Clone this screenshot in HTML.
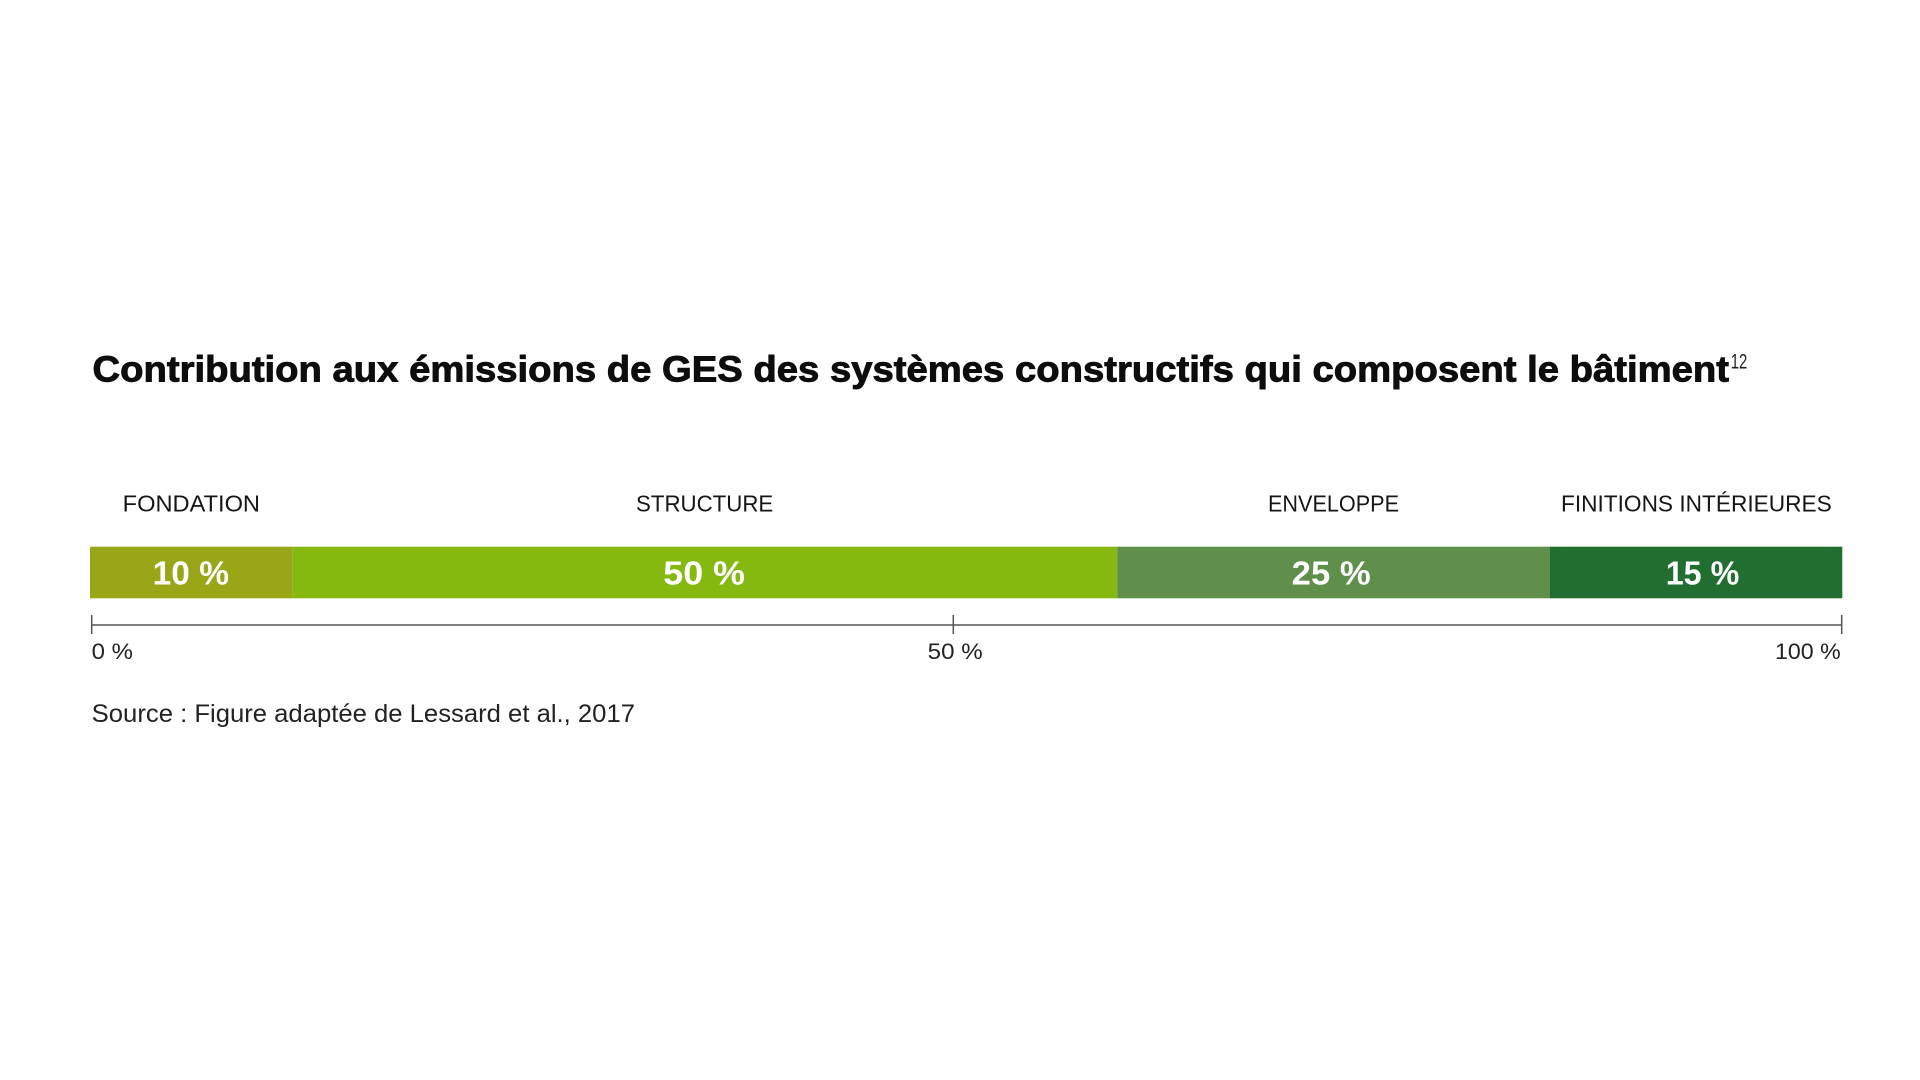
<!DOCTYPE html>
<html>
<head>
<meta charset="utf-8">
<style>
  html,body{margin:0;padding:0;background:#fff;}
  body{width:1920px;height:1080px;overflow:hidden;}
  svg{display:block;}
  text{font-family:"Liberation Sans",sans-serif;}
</style>
</head>
<body>
<svg width="1920" height="1080" viewBox="0 0 1920 1080" xmlns="http://www.w3.org/2000/svg">
  <rect x="0" y="0" width="1920" height="1080" fill="#ffffff"/>

  <!-- Title -->
  <text x="92.5" y="381.7" font-size="36.5" font-weight="bold" fill="#0d0d0d" stroke="#0d0d0d" stroke-width="0.9" textLength="1636.5" lengthAdjust="spacingAndGlyphs">Contribution aux émissions de GES des systèmes constructifs qui composent le bâtiment</text>
  <text x="1730.7" y="368.3" font-size="21" fill="#222" textLength="16.5" lengthAdjust="spacingAndGlyphs">12</text>

  <!-- Category labels -->
  <g font-size="23" fill="#151515">
    <text x="122.7" y="511.7" textLength="137.3" lengthAdjust="spacingAndGlyphs">FONDATION</text>
    <text x="636" y="511.7" textLength="137.3" lengthAdjust="spacingAndGlyphs">STRUCTURE</text>
    <text x="1268" y="511.7" textLength="131" lengthAdjust="spacingAndGlyphs">ENVELOPPE</text>
    <text x="1561" y="511.7" textLength="270.7" lengthAdjust="spacingAndGlyphs">FINITIONS INTÉRIEURES</text>
  </g>

  <!-- Bar segments -->
  <rect x="90" y="546.7" width="202.7" height="51.6" fill="#98a617"/>
  <rect x="292.7" y="546.7" width="824.6" height="51.6" fill="#86b90f"/>
  <rect x="1117.3" y="546.7" width="432.7" height="51.6" fill="#5f8f4a"/>
  <rect x="1550" y="546.7" width="292.3" height="51.6" fill="#226e31"/>

  <!-- Value labels -->
  <g font-size="33" font-weight="bold" fill="#ffffff">
    <text x="152.7" y="584.3" textLength="76.3" lengthAdjust="spacingAndGlyphs">10 %</text>
    <text x="663.3" y="584.3" textLength="81.7" lengthAdjust="spacingAndGlyphs">50 %</text>
    <text x="1291.7" y="584.3" textLength="79" lengthAdjust="spacingAndGlyphs">25 %</text>
    <text x="1665.7" y="584.3" textLength="73.6" lengthAdjust="spacingAndGlyphs">15 %</text>
  </g>

  <!-- Axis -->
  <g stroke="#555" stroke-width="1.5" fill="none">
    <line x1="91.7" y1="625" x2="1841.7" y2="625"/>
    <line x1="91.7" y1="615" x2="91.7" y2="634"/>
    <line x1="953.3" y1="615" x2="953.3" y2="634"/>
    <line x1="1841.7" y1="615" x2="1841.7" y2="634"/>
  </g>
  <g font-size="22" fill="#222">
    <text x="91.7" y="659" textLength="41.3" lengthAdjust="spacingAndGlyphs">0 %</text>
    <text x="927.7" y="659" textLength="55" lengthAdjust="spacingAndGlyphs">50 %</text>
    <text x="1775" y="659" textLength="65.7" lengthAdjust="spacingAndGlyphs">100 %</text>
  </g>

  <!-- Source -->
  <text x="91.7" y="722" font-size="25" fill="#222" textLength="543.3" lengthAdjust="spacingAndGlyphs">Source : Figure adaptée de Lessard et al., 2017</text>
</svg>
</body>
</html>
